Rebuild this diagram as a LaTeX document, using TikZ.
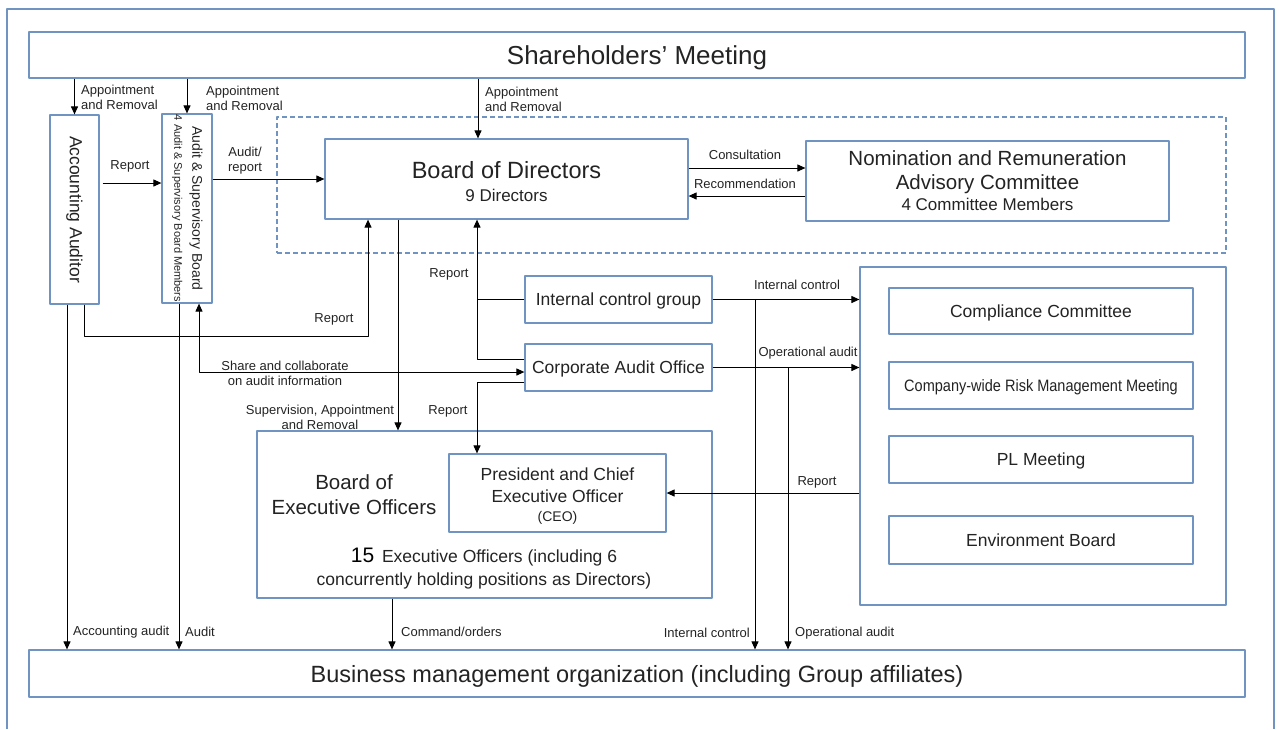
\documentclass[tikz,border=0pt]{standalone}
\usepackage{fontspec}
\setmainfont{Liberation Sans}
\usetikzlibrary{arrows.meta, calc}
\definecolor{boxblue}{RGB}{112,148,194}
\definecolor{txt}{RGB}{35,35,35}
\newcommand{\fsz}[2]{\fontsize{#1}{#2}\selectfont}
\tikzset{
	box/.style={draw=boxblue, line width=1.2pt, inner sep=0pt, align=center, text=txt},
	onetext/.style={text depth=0pt},
	words/.style={text=txt, align=center, inner sep=0pt},
	lbl/.style={font=\fsz{13}{15}, text=txt, align=center, inner sep=0pt},
	link/.style={->, line width=1pt},
}

\begin{document}
\begin{tikzpicture}[x=1pt, y=-1pt, >={Triangle[length=8pt,width=7pt]}, line join=round]
\useasboundingbox (0,0) rectangle (1279,729);
\draw[boxblue, line width=1.3pt] (7,729) -- (7,9) -- (1274,9) -- (1274,729);
%========================
% Boxes
%========================
\node[box, onetext, minimum width=1216pt, minimum height=46pt, font=\fsz{26}{30}] (share) at (637,55) {Shareholders' Meeting};
\node[box, onetext, minimum width=1216pt, minimum height=47pt, font=\fsz{23.5}{28}] (bmo) at (637,673.5) {Business management organization (including Group affiliates)};

\node[box, minimum width=49pt, minimum height=189pt, font=\fsz{17.5}{20}] (acc) at (74.5,209.5) {\rotatebox{-90}{Accounting Auditor}};
\node[box, minimum width=50pt, minimum height=189pt, font=\fsz{14}{18}] (asb) at (187,208.5)
	{\rotatebox{-90}{\begin{tabular}{@{}c@{}}Audit \& Supervisory Board\\ \fsz{11}{18}4 Audit \& Supervisory Board Members\end{tabular}}};

% board zone (dashed)
\node[draw=boxblue, line width=1.2pt, dash pattern=on 5pt off 3pt, inner sep=0pt,
	minimum width=949pt, minimum height=136pt] (bodzone) at (751.5,185) {};
\node[box, fill=white, minimum width=363pt, minimum height=80pt] (bod) at (506.5,179) {};
\node[words, font=\fsz{23.5}{26}] (bodtext) at (506.5,182) {Board of Directors\\[-3pt]{\fsz{17}{20}9 Directors}};
\node[box, fill=white, minimum width=363pt, minimum height=80pt, font=\fsz{20.5}{24}] (nom) at (987.5,181)
	{Nomination and Remuneration\\Advisory Committee\\[-3pt]{\fsz{17}{20}4 Committee Members}};

\node[box, onetext, minimum width=187pt, minimum height=47pt, font=\fsz{17.5}{20}] (icg) at (618.5,299.5) {Internal control group};
\node[box, onetext, minimum width=187pt, minimum height=47pt, font=\fsz{17.5}{20}] (cao) at (618.5,367.5) {Corporate Audit Office};

% executive officers
\node[box, minimum width=455pt, minimum height=167pt] (boeo) at (484.5,514.5) {};
\node[words, font=\fsz{20.5}{25}] (boeotitle) at (354,494.5) {Board of\\Executive Officers};
\node[box, minimum width=217pt, minimum height=78pt] (ceo) at (557.5,493) {};
\node[words, font=\fsz{17.5}{22}] (ceotext) at (557.5,496.5) {President and Chief\\Executive Officer\\[-3pt]{\fsz{14}{16}(CEO)}};
\node[words, font=\fsz{17.5}{23}] (boeonum) at (484,569)
	{{\fsz{21}{23}\color{black}15}\, Executive Officers (including 6\\concurrently holding positions as Directors)};

% committees
\node[box, minimum width=366pt, minimum height=338pt] (cmt) at (1043,436) {};
\node[box, onetext, minimum width=304pt, minimum height=46pt, font=\fsz{17.5}{20}] (comp) at (1041,311) {Compliance Committee};
\node[box, onetext, minimum width=304pt, minimum height=47pt, font=\fsz{16.5}{20}] (risk) at (1041,385.5) {\scalebox{0.88}[1]{Company-wide Risk Management Meeting}};
\node[box, onetext, minimum width=304pt, minimum height=47pt, font=\fsz{17.5}{20}] (pl) at (1041,459.5) {PL Meeting};
\node[box, onetext, minimum width=304pt, minimum height=48pt, font=\fsz{17.5}{20}] (env) at (1041,540) {Environment Board};

%========================
% Connectors
%========================
\coordinate (xacc) at (67,0);
\coordinate (xaccrep) at (84,0);
\coordinate (xaud) at (179,0);
\coordinate (xshare) at (199,0);
\coordinate (xbodrep) at (368,0);
\coordinate (xcmd) at (392,0);
\coordinate (xsup) at (398,0);
\coordinate (xbodapp) at (478,0);
\coordinate (xrep) at (477,0);
\coordinate (xic) at (755,0);
\coordinate (xop) at (788,0);

% appointment and removal
\draw[link] (share.south -| acc) -- (acc.north);
\node[lbl, anchor=west, align=left] (appacc) at (81,97.5) {Appointment\\and Removal};
\draw[link] (share.south -| asb) -- (asb.north);
\node[lbl, anchor=west, align=left] (appasb) at (206,98.5) {Appointment\\and Removal};
\draw[link] (share.south -| xbodapp) -- (bod.north -| xbodapp);
\node[lbl, anchor=west, align=left] (appbod) at (485,99.5) {Appointment\\and Removal};

% auditors
\draw[link] ($(acc.east |- 0,183)+(3,0)$) -- (asb.west |- 0,183);
\node[lbl] (repacc) at (130,166) {Report};
\draw[link] (asb.east |- bod.west) -- (bod.west);
\node[lbl] (audrep) at (245,160.5) {Audit/\\report};
\draw[link] (acc.south -| xaccrep) |- (0,336 -| xbodrep) -- (bod.south -| xbodrep);
\node[lbl] (repbod) at (334,319) {Report};
\draw[link] (acc.south -| xacc) -- (bmo.north -| xacc);
\node[lbl, anchor=west] (accaud) at (73,632) {Accounting audit};
\draw[link] (asb.south -| xaud) -- (bmo.north -| xaud);
\node[lbl, anchor=west] (audaud) at (185,632) {Audit};
\draw[<->, line width=1pt] (asb.south -| xshare) |- (cao.west |- 0,372);
\node[lbl] (sharelbl) at (285,373.5) {Share and collaborate\\on audit information};

% board
\draw[link] (bod.east |- 0,168) -- (nom.west |- 0,168);
\node[lbl] (consult) at (745,155) {Consultation};
\draw[link] (nom.west |- 0,196) -- (bod.east |- 0,196);
\node[lbl] (recomm) at (745,184) {Recommendation};
\draw[link] (bod.south -| xsup) -- (boeo.north -| xsup);
\node[lbl] (suplbl) at (320,417.5) {Supervision, Appointment\\and Removal};
\draw[link] (boeo.south -| xcmd) -- (bmo.north -| xcmd);
\node[lbl, anchor=west] (cmdlbl) at (401,632) {Command/orders};

% internal control and audit office
\draw[line width=1pt] (icg.west) -- (icg.west -| xrep);
\draw[link] (cao.west |- 0,359) -| (bod.south -| xrep);
\node[lbl] (repicg) at (449,274) {Report};
\draw[link] (cao.west |- 0,382) -| (ceo.north -| xrep);
\node[lbl] (repceo) at (448,411) {Report};
\draw[link] (icg.east) -- (cmt.west |- icg.east);
\node[lbl] (iclbl) at (797,285) {Internal control};
\draw[link] (icg.east -| xic) -- (bmo.north -| xic);
\node[lbl, anchor=east] (icbot) at (750,633) {Internal control};
\draw[link] (cao.east) -- (cmt.west |- cao.east);
\node[lbl] (oplbl) at (808,353) {Operational audit};
\draw[link] (cao.east -| xop) -- (bmo.north -| xop);
\node[lbl, anchor=west] (opbot) at (795,633) {Operational audit};
\draw[link] (cmt.west |- ceo.east) -- (ceo.east);
\node[lbl] (repcmt) at (817,482) {Report};
\end{tikzpicture}
\end{document}
